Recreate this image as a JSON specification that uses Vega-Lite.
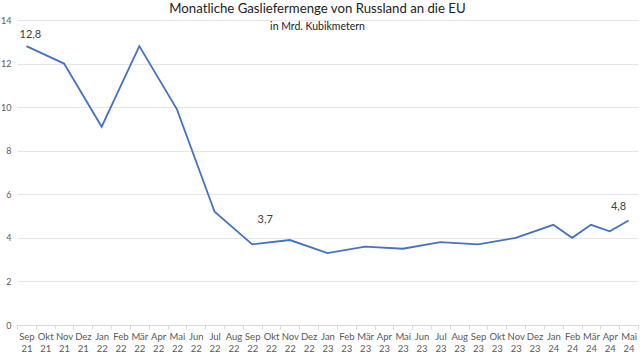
{
  "$schema": "https://vega.github.io/schema/vega-lite/v6.json",
  "width": 621,
  "height": 305,
  "autosize": {"type": "none"},
  "padding": {"left": 17, "top": 20, "right": 2, "bottom": 30},
  "background": "white",
  "config": {"view": {"stroke": null}, "font": "Lato"},
  "title": {
    "text": "Monatliche Gasliefermenge von Russland an die EU",
    "subtitle": "in Mrd. Kubikmetern",
    "anchor": "middle",
    "fontSize": 13.2,
    "fontWeight": "normal",
    "color": "#222222",
    "subtitleFontSize": 10.5,
    "subtitleColor": "#222222",
    "subtitlePadding": 5,
    "offset": -17,
    "dx": -10
  },
  "data": {
    "values": [
      {"m": "Sep 21", "v": 12.8, "lbl": "12,8"},
      {"m": "Nov 21", "v": 12.0},
      {"m": "Jan 22", "v": 9.1},
      {"m": "Mär 22", "v": 12.8},
      {"m": "Mai 22", "v": 9.9},
      {"m": "Jul 22", "v": 5.2},
      {"m": "Sep 22", "v": 3.7, "lbl": "3,7"},
      {"m": "Nov 22", "v": 3.9},
      {"m": "Jan 23", "v": 3.3},
      {"m": "Mär 23", "v": 3.6},
      {"m": "Mai 23", "v": 3.5},
      {"m": "Jul 23", "v": 3.8},
      {"m": "Sep 23", "v": 3.7},
      {"m": "Nov 23", "v": 4.0},
      {"m": "Jan 24", "v": 4.6},
      {"m": "Feb 24", "v": 4.0},
      {"m": "Mär 24", "v": 4.6},
      {"m": "Apr 24", "v": 4.3},
      {"m": "Mai 24", "v": 4.8, "lbl": "4,8"}
    ]
  },
  "encoding": {
    "x": {
      "field": "m",
      "type": "ordinal",
      "sort": null,
      "bandPosition": 0.5,
      "scale": {
        "type": "band",
        "paddingInner": 0,
        "paddingOuter": 0,
        "domain": ["Sep 21","Okt 21","Nov 21","Dez 21","Jan 22","Feb 22","Mär 22","Apr 22","Mai 22","Jun 22","Jul 22","Aug 22","Sep 22","Okt 22","Nov 22","Dez 22","Jan 23","Feb 23","Mär 23","Apr 23","Mai 23","Jun 23","Jul 23","Aug 23","Sep 23","Okt 23","Nov 23","Dez 23","Jan 24","Feb 24","Mär 24","Apr 24","Mai 24"]
      },
      "axis": {
        "title": null,
        "labelAngle": 0,
        "labelExpr": "split(datum.label, ' ')",
        "labelFontSize": 9.5,
        "labelColor": "#595959",
        "labelLineHeight": 12,
        "labelPadding": 2,
        "labelBaseline": "top",
        "domainColor": "#d9d9d9",
        "tickColor": "#d9d9d9",
        "tickBand": "extent",
        "tickSize": 4,
        "grid": false
      }
    },
    "y": {
      "field": "v",
      "type": "quantitative",
      "scale": {"domain": [0, 14], "nice": false},
      "axis": {
        "title": null,
        "values": [0, 2, 4, 6, 8, 10, 12, 14],
        "domain": false,
        "ticks": false,
        "labelFontSize": 9,
        "labelColor": "#595959",
        "labelPadding": 6,
        "gridColor": "#e6e6e6",
        "gridWidth": 1
      }
    }
  },
  "layer": [
    {
      "mark": {"type": "line", "color": "#4472C4", "strokeWidth": 1.8}
    },
    {
      "transform": [{"filter": "datum.lbl == '12,8'"}],
      "mark": {"type": "text", "fontSize": 11, "color": "#404040", "dy": -11, "dx": 4},
      "encoding": {"text": {"field": "lbl"}}
    },
    {
      "transform": [{"filter": "datum.lbl == '3,7'"}],
      "mark": {"type": "text", "fontSize": 11, "color": "#404040", "dy": -24, "dx": 13},
      "encoding": {"text": {"field": "lbl"}}
    },
    {
      "transform": [{"filter": "datum.lbl == '4,8'"}],
      "mark": {"type": "text", "fontSize": 11, "color": "#404040", "dy": -13, "dx": -10},
      "encoding": {"text": {"field": "lbl"}}
    }
  ]
}
